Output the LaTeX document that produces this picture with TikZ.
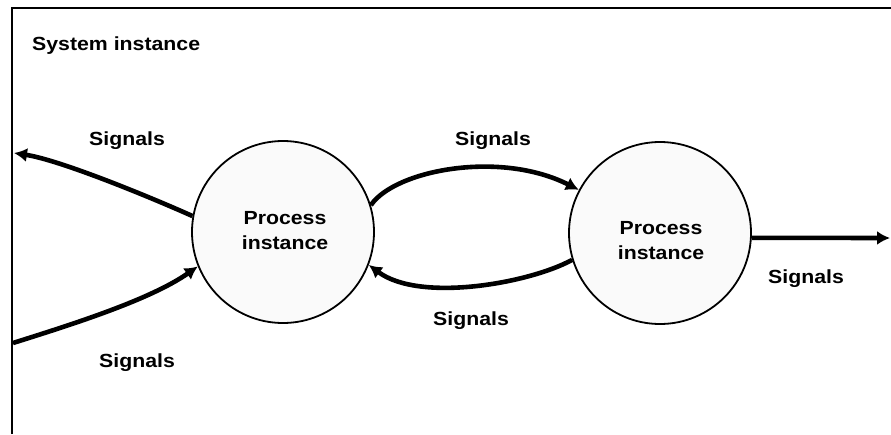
\documentclass[tikz,border=0pt]{standalone}
\usepackage{fontspec}
\setmainfont[FakeStretch=1.12]{Liberation Sans}
\usetikzlibrary{arrows.meta}

\tikzset{
  frameline/.style={line width=2pt, black},
  proc/.style={circle, draw=black, line width=1.8pt, fill=gray!4,
               minimum size=182pt, inner sep=0pt},
  lbl/.style={font=\fontsize{19}{25}\selectfont\bfseries, inner sep=0pt},
  plbl/.style={lbl, align=center},
  sig/.style={line width=4.6pt, -{Latex[length=13pt,width=14pt]}},
}

\begin{document}
\begin{tikzpicture}[x=1pt, y=-1pt]
  \useasboundingbox (0,0) rectangle (891,434);

  % system boundary (only the top and left edges are in view)
  \draw[frameline] (12,434) -- (12,8) -- (891,8);
  \node[lbl, anchor=base west] (sys) at (32,50) {System instance};

  % process instances
  \node[proc] (p1) at (283,232) {};
  \node[proc] (p2) at (660,233) {};
  \node[plbl] (t1) at (285,231) {Process\\instance};
  \node[plbl] (t2) at (661,241) {Process\\instance};

  % free ends at the system boundary
  \coordinate (outL) at (14,153);
  \coordinate (inL)  at (13,343);
  \coordinate (outR) at (890,238);

  % signal routes
  \draw[sig] (p1.170) .. controls (150,197) and (60,160) .. (outL);
  \draw[sig] (inL) .. controls (70,325) and (150,300) .. (p1.202);
  \draw[sig] (p1.17) .. controls (395,170) and (500,150) .. (p2.152);
  \draw[sig] (p2.197) .. controls (530,283) and (420,303) .. (p1.339);
  \draw[sig] (p2.357) -- (outR);

  % signal labels
  \node[lbl, anchor=base] (s1) at (127,145) {Signals};
  \node[lbl, anchor=base] (s2) at (137,367) {Signals};
  \node[lbl, anchor=base] (s3) at (493,145) {Signals};
  \node[lbl, anchor=base] (s4) at (471,325) {Signals};
  \node[lbl, anchor=base] (s5) at (806,283) {Signals};
\end{tikzpicture}
\end{document}
